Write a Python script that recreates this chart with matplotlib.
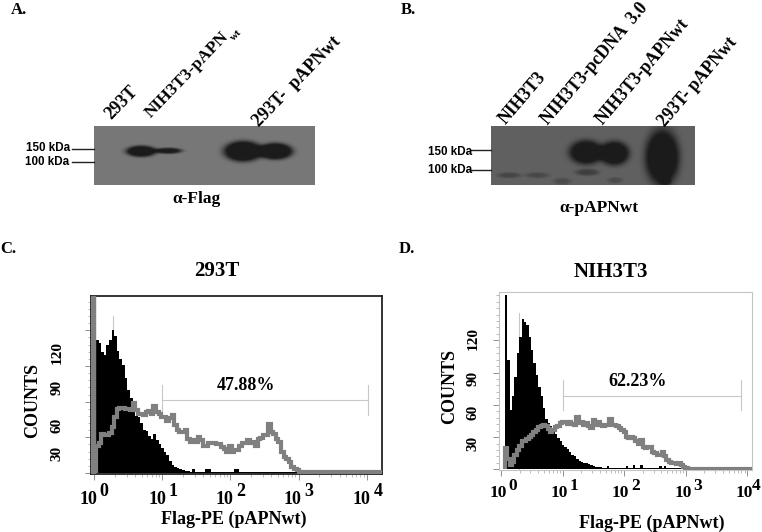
import numpy as np
import matplotlib
matplotlib.use('Agg')
import matplotlib.pyplot as plt

W, H = 762, 532
SERIF = 'Liberation Serif'
SANS = 'Liberation Sans'
GRAY = '#808080'

# western blot bands: centre x, centre y, half width, half height, darkness
bands_a_x = [141, 168, 243, 275]
bands_a_y = [151, 150.5, 151, 151]
bands_a_rx = [15, 14, 19, 17]
bands_a_ry = [5.5, 3, 10, 8]
bands_a_dark = [140, 105, 160, 160]

bands_b_x = [509, 537, 562, 587, 586, 614, 615, 662, 665]
bands_b_y = [175, 175, 181, 172, 152, 153, 180, 157, 181]
bands_b_rx = [12, 12, 9, 12, 17, 15, 8, 17, 6]
bands_b_ry = [2.8, 2.8, 3.5, 3.5, 12, 12, 3, 28, 4]
bands_b_dark = [28, 26, 22, 35, 105, 105, 22, 110, 40]

# histogram channels (counts per channel)
c_black = [112, 109, 102, 99, 108, 112, 120, 115, 103, 96, 91, 80, 70, 63, 53, 48, 47, 42, 36, 35,
           31, 29, 33, 28, 24, 21, 18, 15, 10, 7, 5, 4, 3, 2.5, 1.4, 1.4, 1, 3, 1, 1, 1, 1, 3, 3, 1,
           1, 1, 1, 1, 1, 1, 1, 1, 3, 3, 1, 1, 1, 1, 1, 1, 1, 1, 1, 1, 1, 1, 1, 1, 1, 1, 1, 1, 1, 1,
           1, 1, 1, 1]
c_gray = [23, 25, 33, 32, 32, 34, 39, 47, 54, 55, 55, 54, 53.5, 53, 59, 53, 50, 50, 48.5, 51, 52, 50,
          56, 51, 50, 47, 47, 44, 46, 48.5, 40, 36, 34.5, 34.5, 36, 29, 26, 27.5, 26, 30, 28, 23, 23,
          25, 25, 25, 24, 24.5, 22, 20, 18, 23, 18, 19, 19, 23, 25, 25, 27.5, 25, 26, 23, 29, 29.5, 32,
          32, 41.5, 34.5, 33, 29, 26, 18, 13.5, 11.5, 9, 5, 3.6, 2.2, 1, 0.7, 0.5, 0.5, 0.5, 1.2, 1.2,
          0.5, 0.5, 0.5, 0.5, 0.5, 0.5, 0.5, 0.5, 0.5, 0.5, 0.5, 0.5, 0.5, 0.5, 0.5, 0.5, 0.5, 0.5, 0.5,
          0.5, 0.5, 0.5, 0.5, 0.5, 0.5]

d_black = [162, 102, 55, 68, 86, 108, 123, 140, 137, 134, 123, 111, 99, 88, 77, 68, 57, 47, 43, 40,
           37, 33, 29, 26, 23, 21, 19, 16, 13, 12, 10, 8, 6.5, 6, 6, 5, 4, 3, 2, 2, 2, 1.5, 1.5, 3, 1,
           1, 1, 1, 1, 1, 1, 3, 1, 1, 4, 1, 1, 4, 1, 1, 1, 1, 1, 1, 1, 3, 1, 3, 1, 1, 1, 1, 1, 1]
d_gray = [19.5, 10, 4, 7, 13, 18, 22, 26, 26, 28, 30, 32, 35, 36.5, 39, 40, 41, 40, 37.5, 35, 36.5, 39,
          40, 43, 44, 44, 42, 44, 42, 41, 49, 43, 44, 41, 43, 40, 38, 46, 41, 44, 41, 40.5, 41, 41, 47,
          41, 41, 40, 38, 36.5, 35, 30, 29, 30, 29, 26, 24, 27, 21, 19.5, 21, 21, 16, 15, 13, 13, 16,
          12, 9, 7, 5.5, 5.5, 4.6, 5.5, 4, 2.5, 1, 0.6, 0.5, 0.5, 0.5, 0.5, 0.5, 0.5, 0.5, 0.5, 0.5, 0.5,
          0.5, 0.5, 0.5, 0.5, 0.5, 0.5, 0.5, 0.5, 0.5, 0.5, 0.5, 0.5, 0.5, 0.5, 0.5, 0.5, 0.5]

count_ticks = [0, 30, 60, 90, 120]
count_labels = ['30', '60', '90', '120']
decades = [0, 1, 2, 3, 4]

fig = plt.figure(figsize=(W / 100, H / 100), dpi=100)


def txt(x, y, s, size=12, family=SERIF, rot=0, ha='center', va='center', **kw):
    fig.text(x / W, 1 - y / H, s, fontsize=size, family=family, fontweight='bold', rotation=rot,
             ha=ha, va=va, rotation_mode='anchor', **kw)


def px_axes(x0, y0, x1, y1):
    return fig.add_axes([x0 / W, 1 - y1 / H, (x1 - x0) / W, (y1 - y0) / H])


def blot(x0, y0, x1, y1, background, xs, ys, rxs, rys, darks):
    ax = px_axes(x0, y0, x1, y1)
    gx, gy = np.meshgrid(np.arange(x0, x1, 0.5), np.arange(y0, y1, 0.5))
    img = np.full(gx.shape, float(background))
    for x, y, rx, ry, d in zip(xs, ys, rxs, rys, darks):
        img -= d * np.exp(-(((gx - x) / rx) ** 2 + ((gy - y) / ry) ** 2) ** 2)
    ax.imshow(np.clip(img, 28, 255), cmap='gray', vmin=0, vmax=255, aspect='auto',
              extent=[x0, x1, y1, y0], interpolation='bilinear')
    ax.axis('off')


def histogram(box, x_origin, decade_px, y_zero, y30_px, start, step, black, gray, gate, gate_y, frame):
    x0, y0, x1, y1 = box
    ax = px_axes(x0, y0, x1, y1)
    ax.set_xscale('log')
    ax.set_xlim(10 ** ((x0 - x_origin) / decade_px), 10 ** ((x1 - x_origin) / decade_px))
    ax.set_ylim((y_zero - y1) / y30_px * 30, (y_zero - y0) / y30_px * 30)
    black_edges = 10 ** (start + step * np.arange(len(black) + 1))
    gray_edges = 10 ** (start + step * np.arange(len(gray) + 1))
    # thin gate lines sit behind the histograms
    ax.plot([gate[0], gate[1]], [gate_y[1]] * 2, color='#c8c8c8', lw=0.8, zorder=1)
    for g in gate:
        ax.plot([g, g], [gate_y[0], gate_y[2]], color='#c8c8c8', lw=0.8, zorder=1)
    ax.stairs(black, black_edges, fill=True, color='black', lw=0.3, zorder=2)
    ax.stairs(gray, gray_edges, baseline=0, color=GRAY, lw=3.0, zorder=3)
    ax.set_yticks(count_ticks)
    ax.set_yticks(np.arange(0, ax.get_ylim()[1], 6), minor=True)
    ax.set_xticks([10.0 ** d for d in decades])
    ax.set_xticks([m * 10.0 ** d for d in decades[:-1] for m in range(2, 10)], minor=True)
    ax.tick_params(which='major', length=4, width=0.7, color='#909090', labelbottom=False, labelleft=False)
    ax.tick_params(which='minor', length=2.5, width=0.6, color='#b0b0b0', labelbottom=False, labelleft=False)
    for s in ax.spines.values():
        s.set_color(frame[0])
        s.set_linewidth(frame[1])
    return ax


# panel letters
txt(19, 10, 'A.', 12)
txt(408, 10, 'B.', 12)
txt(8, 249, 'C.', 12)
txt(407, 249, 'D.', 12)

# panel A blot
blot(94, 126, 315, 185, 120, bands_a_x, bands_a_y, bands_a_rx, bands_a_ry, bands_a_dark)
for s, x, y, size in [('293T', 111, 120, 13), ('NIH3T3-pAPN', 151, 118, 12.5), ('293T-  pAPNwt', 259, 127, 13)]:
    txt(x, y, s, size, rot=46, ha='left', va='baseline')
txt(234, 41, 'wt', 8, rot=46, ha='left', va='baseline')
txt(48, 148, '150 kDa', 8.4, SANS)
txt(47, 162, '100 kDa', 8.4, SANS)
fig.add_artist(plt.Line2D([72 / W, 94 / W], [1 - 149 / H] * 2, color='#222222', lw=1))
fig.add_artist(plt.Line2D([72 / W, 94 / W], [1 - 162 / H] * 2, color='#222222', lw=1))
txt(196, 199, 'α-Flag', 12.5)

# panel B blot
blot(491, 126, 695, 185, 97, bands_b_x, bands_b_y, bands_b_rx, bands_b_ry, bands_b_dark)
for s, x, y in [('NIH3T3', 506, 125), ('NIH3T3-pcDNA  3.0', 548, 125), ('NIH3T3-pAPNwt', 603, 125),
                ('293T- pAPNwt', 665, 127)]:
    txt(x, y, s, 12.7, rot=49.5, ha='left', va='baseline')
txt(450, 152, '150 kDa', 8.4, SANS)
txt(450, 170, '100 kDa', 8.4, SANS)
fig.add_artist(plt.Line2D([471 / W, 491 / W], [1 - 150 / H] * 2, color='#222222', lw=1))
fig.add_artist(plt.Line2D([471 / W, 491 / W], [1 - 170 / H] * 2, color='#222222', lw=1))
txt(599, 208, 'α-pAPNwt', 12.5)

# panel C histogram
ax_c = histogram((91, 296, 382, 474), 94, 68.2, 473, 35.67, 0.03, 0.0382, c_black, c_gray,
                 (10, 10500), (49, 61.7, 73.7), ('#222222', 1.3))
ax_c.axvspan(ax_c.get_xlim()[0], 1.03, color=GRAY, zorder=4)
ax_c.plot([1.88, 1.88], [0, 132], color='#c8c8c8', lw=0.8, zorder=1)
txt(217, 271, '293T', 15)
txt(33, 400, 'COUNTS', 13, rot=90)
for s, y in zip(count_labels, [453, 425, 387, 352]):
    txt(57, y, s, 11, rot=90)
for d, off in zip(decades, [-6, -5, -6, -6, -5]):
    tick = 94 + 68.2 * d
    txt(tick + off, 499, '10', 13)
    txt(tick + off + 16, 492, str(d), 13)
txt(246, 386, '47.88%', 13)
txt(234, 519, 'Flag-PE (pAPNwt)', 13)

# panel D histogram
ax_d = histogram((499, 292, 752, 470), 501, 61.6, 469.3, 32.25, 0.065, 0.0385, d_black, d_gray,
                 (10, 7800), (55, 68.5, 83), ('#c4c4c4', 0.8))
ax_d.plot([1.96, 1.96], [0, 145], color='#c8c8c8', lw=0.8, zorder=1)
txt(611, 272, 'NIH3T3', 15)
txt(450, 387, 'COUNTS', 13, rot=90)
for s, y in zip(count_labels, [443, 412, 378, 338]):
    txt(473, y, s, 11, rot=90)
for d, off, sup in zip(decades, [-3, -3, -4, -3, -3], [15, 14, 15, 15, 12]):
    tick = 501 + 61.6 * d
    txt(tick + off, 493, '10', 12.5)
    txt(tick + off + sup, 486, str(d), 12.5)
txt(638, 382, '62.23%', 13)
txt(652, 523, 'Flag-PE (pAPNwt)', 13)

fig.savefig('out.png', dpi=100)
